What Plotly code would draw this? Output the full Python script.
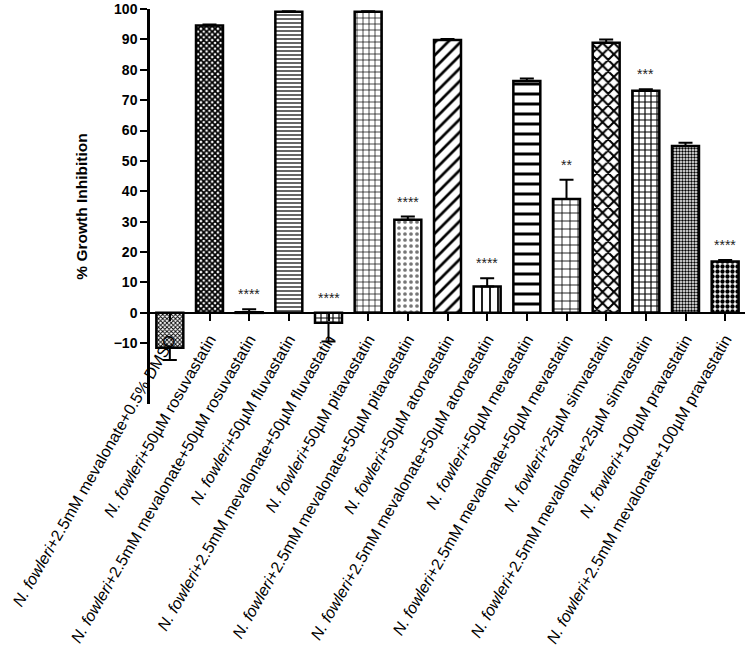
import plotly.graph_objects as go

labels = [
    "<i>N. fowleri</i>+2.5mM mevalonate+0.5% DMSO",
    "<i>N. fowleri</i>+50µM rosuvastatin",
    "<i>N. fowleri</i>+2.5mM mevalonate+50µM rosuvastatin",
    "<i>N. fowleri</i>+50µM fluvastatin",
    "<i>N. fowleri</i>+2.5mM mevalonate+50µM fluvastatin",
    "<i>N. fowleri</i>+50µM pitavastatin",
    "<i>N. fowleri</i>+2.5mM mevalonate+50µM pitavastatin",
    "<i>N. fowleri</i>+50µM atorvastatin",
    "<i>N. fowleri</i>+2.5mM mevalonate+50µM atorvastatin",
    "<i>N. fowleri</i>+50µM mevastatin",
    "<i>N. fowleri</i>+2.5mM mevalonate+50µM mevastatin",
    "<i>N. fowleri</i>+25µM simvastatin",
    "<i>N. fowleri</i>+2.5mM mevalonate+25µM simvastatin",
    "<i>N. fowleri</i>+100µM pravastatin",
    "<i>N. fowleri</i>+2.5mM mevalonate+100µM pravastatin",
]
values = [-11.5, 94.6, 0.2, 99.1, -3.3, 99.1, 30.6, 89.8, 8.7, 76.3, 37.5, 88.9, 73.1, 54.9, 16.9]
sem = [4.0, 0.3, 1.0, 0.2, 6.1, 0.2, 1.1, 0.3, 2.7, 0.8, 6.3, 1.1, 0.5, 1.1, 0.5]
stars = ["", "", "****", "", "****", "", "****", "", "****", "", "**", "", "***", "", "****"]
y_ticks = [-10, 0, 10, 20, 30, 40, 50, 60, 70, 80, 90, 100]

pat_shape = ["x", "x", "", "-", "+", "+", ".", "/", "|", "-", "+", "x", "+", ".", "."]
pat_size = [3, 4, 6, 4, 6, 6, 6, 9, 8, 10, 8, 8, 6, 3, 5]
pat_sol = [0.5, 0.7, 0.3, 0.3, 0.35, 0.22, 0.3, 0.3, 0.22, 0.3, 0.2, 0.45, 0.35, 0.5, 0.6]
pat_fg = ["black", "black", "black", "black", "black", "black", "#777777", "black", "black",
          "black", "black", "black", "black", "black", "black"]

x = list(range(len(values)))
err_plus = [s if v >= 0 else 0 for v, s in zip(values, sem)]
err_minus = [s if v < 0 else 0 for v, s in zip(values, sem)]

y_min, y_max = -30, 100

fig = go.Figure()
fig.add_trace(go.Bar(
    x=x, y=values,
    width=0.68,
    marker=dict(
        color="white",
        line=dict(color="black", width=2.5),
        pattern=dict(shape=pat_shape, size=pat_size, solidity=pat_sol,
                     fgcolor=pat_fg, bgcolor="white", fillmode="replace"),
    ),
    error_y=dict(type="data", symmetric=False, array=err_plus, arrayminus=err_minus,
                 color="black", thickness=2, width=7),
    showlegend=False,
))

for i, (v, s, st) in enumerate(zip(values, sem, stars)):
    if st:
        top = max(v, 0) + (s if v >= 0 else 0)
        fig.add_annotation(x=i, y=top, text=st, showarrow=False, yanchor="bottom",
                           yshift=5, font=dict(family="Liberation Sans", size=14, color="#222"))

fig.update_layout(
    width=750, height=657,
    margin=dict(l=150, r=5, t=9, b=253),
    plot_bgcolor="white", paper_bgcolor="white",
    font=dict(family="Liberation Sans", color="black"),
)
fig.update_xaxes(
    range=[-0.5, len(values) - 0.5],
    tickvals=x, ticktext=labels, tickangle=-60,
    tickfont=dict(family="Liberation Sans", size=16, color="black"),
    ticklabelstandoff=3,
    showline=True, linecolor="black", linewidth=2,
    ticks="outside", ticklen=7, tickwidth=2, tickcolor="black",
    showgrid=False, zeroline=False, automargin=False,
    anchor="free", position=(0 - y_min) / (y_max - y_min),
)
fig.update_yaxes(
    range=[y_min, y_max],
    tickvals=y_ticks,
    tickfont=dict(family="Liberation Sans", size=14, color="black", weight="bold"),
    title=dict(text="<b>% Growth Inhibition</b>", font=dict(family="Liberation Sans", size=15.5),
               standoff=23),
    showline=True, linecolor="black", linewidth=2.5,
    ticks="outside", ticklen=7, tickwidth=2, tickcolor="black",
    showgrid=False, zeroline=False, automargin=False,
)

fig.write_html("out.html", config={"displayModeBar": False},
               post_script="document.body.style.margin='0';")
